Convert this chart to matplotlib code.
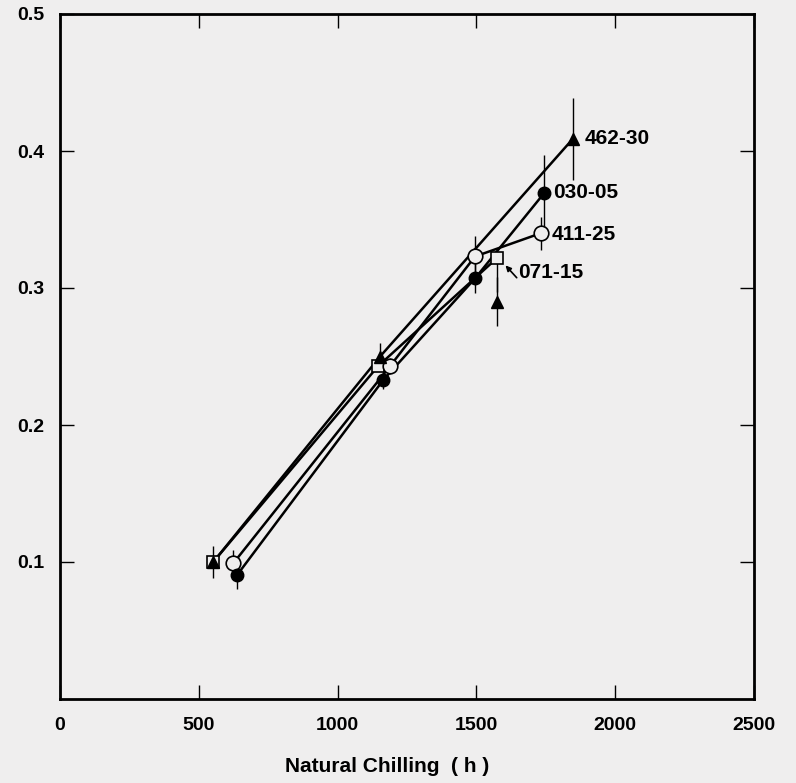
import matplotlib.pyplot as plt
import numpy as np

plt.rcParams['font.family'] = ['Liberation Sans', 'DejaVu Sans']
plt.rcParams['font.weight'] = 'bold'

# data
x_462 = [552, 1153, 1848]
y_462 = [0.100, 0.250, 0.409]
e_462 = [0.012, 0.010, 0.030]
x_462_extra = [1575]
y_462_extra = [0.290]
e_462_extra = [0.018]

x_030 = [638, 1165, 1495, 1743]
y_030 = [0.0905, 0.233, 0.307, 0.369]
e_030 = [0.010, 0.007, 0.011, 0.028]

x_411 = [624, 1189, 1495, 1732]
y_411 = [0.099, 0.243, 0.323, 0.340]
e_411 = [0.010, 0.006, 0.015, 0.012]

x_071 = [552, 1146, 1575]
y_071 = [0.100, 0.243, 0.322]
e_071 = [0.0, 0.0, 0.025]

labels = ['462-30', '030-05', '411-25', '071-15']
label_x = [1891, 1776, 1772, 1650]
label_y = [0.409, 0.370, 0.339, 0.311]

xticks = [0, 500, 1000, 1500, 2000, 2500]
yticks = [0.1, 0.2, 0.3, 0.4, 0.5]

bg = '#efeeee'
fig = plt.figure(figsize=(7.96, 7.83), dpi=100, facecolor=bg)
ax = fig.add_axes([60/796, 1-699/783, 694/796, 685/783], facecolor=bg)

lw = 1.8
ax.plot(x_462, y_462, color='black', lw=lw, zorder=2)
ax.plot(x_030, y_030, color='black', lw=lw, zorder=2)
ax.plot(x_411, y_411, color='black', lw=lw, zorder=2)
ax.plot(x_071, y_071, color='black', lw=lw, zorder=2)

ekw = dict(fmt='none', ecolor='black', elinewidth=1, capsize=0, zorder=1)
ax.errorbar(x_462, y_462, yerr=e_462, **ekw)
ax.errorbar(x_462_extra, y_462_extra, yerr=e_462_extra, **ekw)
ax.errorbar(x_030, y_030, yerr=e_030, **ekw)
ax.errorbar(x_411, y_411, yerr=e_411, **ekw)
ax.errorbar(x_071, y_071, yerr=[e_071, [0, 0, 0]], **ekw)

ax.plot(x_071, y_071, 's', ms=9, mfc=bg, mec='black', mew=1.2, ls='none', zorder=3)
ax.plot(x_411, y_411, 'o', ms=10.5, mfc=bg, mec='black', mew=1.2, ls='none', zorder=3)
ax.plot(x_030, y_030, 'o', ms=9, mfc='black', mec='black', ls='none', zorder=4)
ax.plot(x_462, y_462, '^', ms=8, mfc='black', mec='black', ls='none', zorder=4)
ax.plot(x_462_extra, y_462_extra, '^', ms=8, mfc='black', mec='black', ls='none', zorder=4)

for lab, lx, ly in zip(labels, label_x, label_y):
    ax.text(lx, ly, lab, fontsize=15, fontweight='bold', va='center', ha='left')
ax.annotate('', xy=(1598, 0.318), xytext=(1652, 0.306),
            arrowprops=dict(arrowstyle='-|>', color='black', lw=1.2, mutation_scale=8))

ax.set_xlim(0, 2500)
ax.set_ylim(0, 0.5)
ax.set_xticks(xticks)
ax.set_yticks(yticks)
ax.set_xticklabels([str(t) for t in xticks])
ax.set_yticklabels(['%.1f' % t for t in yticks])
ax.tick_params(direction='in', length=10, width=1, top=True, right=True,
               labelsize=14)
ax.tick_params(axis='x', pad=13)
ax.tick_params(axis='y', pad=11)
for lab in ax.get_xticklabels() + ax.get_yticklabels():
    lab.set_fontweight('bold')
for s in ax.spines.values():
    s.set_linewidth(2)

ax.set_xlabel('Natural Chilling  ( h )', fontsize=15, fontweight='bold')
ax.xaxis.set_label_coords(0.471, -0.085)

fig.savefig('out.png', dpi=100, facecolor=bg)
